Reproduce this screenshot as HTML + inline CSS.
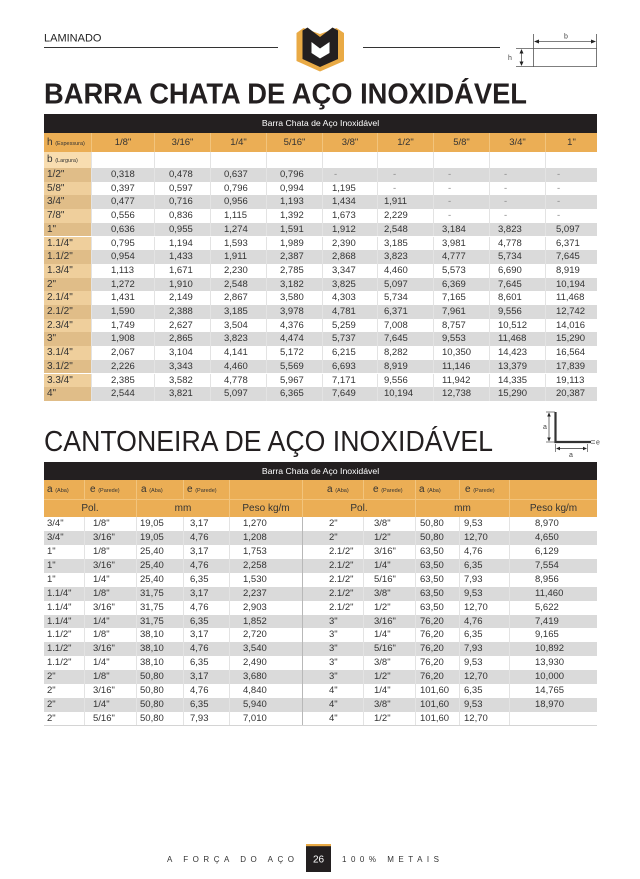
<!DOCTYPE html>
<html><head><meta charset="utf-8">
<style>
*{margin:0;padding:0;box-sizing:border-box}
html,body{width:640px;height:879px;background:#fff;overflow:hidden}
body{position:relative;font-family:"Liberation Sans",Arial,sans-serif;color:#333}
svg.ov{position:absolute;left:0;top:0}
.tb{position:absolute;left:44px;width:553px}
.bar{position:absolute;left:0;width:553px;background:#231f20;color:#fff;font-size:8.7px;text-align:center}
.r{position:absolute;left:0;width:553px;display:flex;font-size:9.5px;white-space:nowrap;color:#333}
.r>span{display:block;height:100%;border-right:1px solid #e3e3e3;overflow:visible;flex:none}
.r>span:last-child{border-right:none}
.g{background:#dadada}
.hd{background:#ebae55}
.hd>span{border-right:1px solid #f2c47c !important}
.hd>span:last-child{border-right:none !important}
b.k{font-weight:normal;font-size:10px}
small{font-size:5.5px}
/* table 1 */
.t1 .r>span:nth-child(1){width:48px;padding-left:3px}
.t1 .r>span:nth-child(2){width:63px;padding-left:19px}
.t1 .r>span:nth-child(3){width:56px;padding-left:14px}
.t1 .r>span:nth-child(4){width:56px;padding-left:13px}
.t1 .r>span:nth-child(5){width:56px;padding-left:13px}
.t1 .r>span:nth-child(6){width:55px;padding-left:9px}
.t1 .r>span:nth-child(7){width:56px;padding-left:6px}
.t1 .r>span:nth-child(8){width:56px;padding-left:8px}
.t1 .r>span:nth-child(9){width:56px;padding-left:8px}
.t1 .r>span:nth-child(10){width:51px;padding-left:10px}
.t1 .r>span.d{color:#888}
.t1 .r>span.d:nth-child(6){padding-left:11px}
.t1 .r>span.d:nth-child(7){padding-left:15px}
.t1 .r>span.d:nth-child(8){padding-left:14px}
.t1 .r>span.d:nth-child(9){padding-left:14px}
.t1 .r>span.d:nth-child(10){padding-left:11px}
.t1 .hd>span{text-align:center;padding-left:0 !important}
.t1 .hd>span:first-child{text-align:left;padding-left:3px !important}
.t1 .dr{height:13.7px;line-height:13.7px}
.t1 .dr>span:first-child{background:#efcf9c;font-size:10px}
.t1 .dr.g>span:first-child{background:#e0bd88}
.t1 .br>span:first-child{background:#f8ddb0}
/* table 2 */
.t2 .r>span:nth-child(1){width:41px;padding-left:3px}
.t2 .r>span:nth-child(2){width:52px;padding-left:8px}
.t2 .r>span:nth-child(3){width:47px;padding-left:3px}
.t2 .r>span:nth-child(4){width:46px;padding-left:6px}
.t2 .r>span:nth-child(5){width:73px;padding-left:13px}
.t2 .r>span:nth-child(6){width:61px;padding-left:26px}
.t2 .r>span:nth-child(7){width:52px;padding-left:10px}
.t2 .r>span:nth-child(8){width:44px;padding-left:4px}
.t2 .r>span:nth-child(9){width:50px;padding-left:4px}
.t2 .r>span:nth-child(10){width:87px;padding-left:25px}
.t2 .dr{height:13.93px;line-height:13.93px}
.t2 .dr>span:nth-child(5){border-right:1px solid #b8b8b8}
.t2 .h1>span:nth-child(2){padding-left:5px}
.t2 .h1>span:nth-child(3){padding-left:4px}
.t2 .h1>span:nth-child(4){padding-left:3px}
.t2 .h1>span:nth-child(6){padding-left:24px}
.t2 .h1>span:nth-child(7){padding-left:9px}
.t2 .h1>span:nth-child(8){padding-left:3px}
.t2 .h1>span:nth-child(9){padding-left:5px}
.t2 .h2{border-top:1px solid #f2c47c}
.t2 .h2>span{text-align:center;padding:0 !important;font-size:10px}
.t2 .last{border-bottom:1px solid #d4d4d4}
</style></head>
<body>

<svg class="ov" width="640" height="879" viewBox="0 0 640 879">
  <text x="44" y="41.5" font-family="Liberation Sans, Arial, sans-serif" font-size="11" fill="#222">LAMINADO</text>
  <line x1="44" y1="47.5" x2="278" y2="47.5" stroke="#333" stroke-width="1"/>
  <line x1="363" y1="47.5" x2="500" y2="47.5" stroke="#333" stroke-width="1"/>
  <!-- logo -->
  <polygon points="296.5,33 303.5,28 320,34 336.5,28 344,33 344,61 320,71.5 296.5,61" fill="#e9aa45"/>
  <polygon points="302.5,30.5 307.5,27.5 320,37 332.5,27.5 338,30.5 338,59 320,67 302.5,59" fill="#231f20"/>
  <polygon points="311.5,42 320,48.5 329.5,42 329.5,53 320,58.5 311.5,53" fill="#fff"/>
  <!-- b/h diagram -->
  <g stroke="#555" stroke-width="0.8" fill="none">
    <line x1="533.5" y1="34" x2="533.5" y2="67"/>
    <line x1="596.5" y1="34" x2="596.5" y2="67"/>
    <line x1="516" y1="48.5" x2="597" y2="48.5"/>
    <line x1="516" y1="66.5" x2="597" y2="66.5"/>
    <line x1="536" y1="41.5" x2="594" y2="41.5"/>
    <line x1="521.5" y1="51" x2="521.5" y2="64"/>
  </g>
  <g fill="#222">
    <polygon points="534,41.5 539,39.5 539,43.5"/>
    <polygon points="596,41.5 591,39.5 591,43.5"/>
    <polygon points="521.5,49 519.5,53.5 523.5,53.5"/>
    <polygon points="521.5,66 519.5,61.5 523.5,61.5"/>
  </g>
  <text x="566" y="38.5" font-family="Liberation Sans, Arial, sans-serif" font-size="7" fill="#444" text-anchor="middle">b</text>
  <text x="510" y="60" font-family="Liberation Sans, Arial, sans-serif" font-size="7" fill="#444" text-anchor="middle">h</text>

  <!-- titles -->
  <text x="44" y="103.5" font-family="Liberation Sans, Arial, sans-serif" font-size="29" font-weight="bold" fill="#231f20" textLength="483" lengthAdjust="spacingAndGlyphs">BARRA CHATA DE AÇO INOXIDÁVEL</text>
  <text x="44" y="451" font-family="Liberation Sans, Arial, sans-serif" font-size="29" fill="#231f20" textLength="449" lengthAdjust="spacingAndGlyphs">CANTONEIRA DE AÇO INOXIDÁVEL</text>

  <!-- L diagram -->
  <g stroke="#333" fill="none">
    <polyline points="555.5,412 555.5,442 591,442" stroke-width="2.2"/>
    <line x1="549" y1="413" x2="549" y2="441" stroke-width="0.7"/>
    <line x1="546" y1="412" x2="555" y2="412" stroke-width="0.6"/>
    <line x1="546" y1="442" x2="555" y2="442" stroke-width="0.6"/>
    <line x1="557" y1="448.5" x2="586" y2="448.5" stroke-width="0.7"/>
    <line x1="555.5" y1="444" x2="555.5" y2="452" stroke-width="0.6"/>
    <line x1="587.5" y1="444" x2="587.5" y2="452" stroke-width="0.6"/>
    <line x1="591" y1="440.8" x2="595" y2="440.8" stroke-width="0.6"/>
    <line x1="591" y1="443.2" x2="595" y2="443.2" stroke-width="0.6"/>
  </g>
  <g fill="#222">
    <polygon points="549,412.5 547.2,416.5 550.8,416.5"/>
    <polygon points="549,441.5 547.2,437.5 550.8,437.5"/>
    <polygon points="556,448.5 560,446.7 560,450.3"/>
    <polygon points="587,448.5 583,446.7 583,450.3"/>
  </g>
  <text x="545" y="429" font-family="Liberation Sans, Arial, sans-serif" font-size="7" fill="#444" text-anchor="middle">a</text>
  <text x="598" y="444.5" font-family="Liberation Sans, Arial, sans-serif" font-size="7" fill="#444" text-anchor="middle">e</text>
  <text x="571" y="457" font-family="Liberation Sans, Arial, sans-serif" font-size="7" fill="#444" text-anchor="middle">a</text>

  <!-- footer -->
  <text x="167" y="862" font-family="Liberation Sans, Arial, sans-serif" font-size="8" fill="#333" textLength="127" lengthAdjust="spacing">A FORÇA DO AÇO</text>
  <rect x="306" y="845" width="25" height="27" fill="#231f20"/>
  <rect x="306" y="844" width="25" height="2.2" fill="#e9aa45"/>
  <text x="318.5" y="862.5" font-family="Liberation Sans, Arial, sans-serif" font-size="10" fill="#fff" text-anchor="middle">26</text>
  <text x="342" y="862" font-family="Liberation Sans, Arial, sans-serif" font-size="8" fill="#333" textLength="97" lengthAdjust="spacing">100% METAIS</text>
</svg>

<!-- TABLE 1 -->
<div class="tb t1" style="top:114px;height:287px">
  <div class="bar" style="top:0;height:19px;line-height:19px">Barra Chata de Aço Inoxidável</div>
  <div class="r hd" style="top:19px;height:19px;line-height:19px"><span><b class="k">h</b> <small>(Espessura)</small></span><span>1/8"</span><span>3/16"</span><span>1/4"</span><span>5/16"</span><span>3/8"</span><span>1/2"</span><span>5/8"</span><span>3/4"</span><span>1"</span></div>
  <div class="r br" style="top:38px;height:16px;line-height:16px"><span><b class="k">b</b> <small>(Largura)</small></span><span></span><span></span><span></span><span></span><span></span><span></span><span></span><span></span><span></span></div>
  <div class="r dr g" style="top:54px"><span>1/2"</span><span>0,318</span><span>0,478</span><span>0,637</span><span>0,796</span><span class="d">-</span><span class="d">-</span><span class="d">-</span><span class="d">-</span><span class="d">-</span></div>
  <div class="r dr" style="top:67.7px"><span>5/8"</span><span>0,397</span><span>0,597</span><span>0,796</span><span>0,994</span><span>1,195</span><span class="d">-</span><span class="d">-</span><span class="d">-</span><span class="d">-</span></div>
  <div class="r dr g" style="top:81.4px"><span>3/4"</span><span>0,477</span><span>0,716</span><span>0,956</span><span>1,193</span><span>1,434</span><span>1,911</span><span class="d">-</span><span class="d">-</span><span class="d">-</span></div>
  <div class="r dr" style="top:95.1px"><span>7/8"</span><span>0,556</span><span>0,836</span><span>1,115</span><span>1,392</span><span>1,673</span><span>2,229</span><span class="d">-</span><span class="d">-</span><span class="d">-</span></div>
  <div class="r dr g" style="top:108.8px"><span>1"</span><span>0,636</span><span>0,955</span><span>1,274</span><span>1,591</span><span>1,912</span><span>2,548</span><span>3,184</span><span>3,823</span><span>5,097</span></div>
  <div class="r dr" style="top:122.5px"><span>1.1/4"</span><span>0,795</span><span>1,194</span><span>1,593</span><span>1,989</span><span>2,390</span><span>3,185</span><span>3,981</span><span>4,778</span><span>6,371</span></div>
  <div class="r dr g" style="top:136.2px"><span>1.1/2"</span><span>0,954</span><span>1,433</span><span>1,911</span><span>2,387</span><span>2,868</span><span>3,823</span><span>4,777</span><span>5,734</span><span>7,645</span></div>
  <div class="r dr" style="top:149.9px"><span>1.3/4"</span><span>1,113</span><span>1,671</span><span>2,230</span><span>2,785</span><span>3,347</span><span>4,460</span><span>5,573</span><span>6,690</span><span>8,919</span></div>
  <div class="r dr g" style="top:163.6px"><span>2"</span><span>1,272</span><span>1,910</span><span>2,548</span><span>3,182</span><span>3,825</span><span>5,097</span><span>6,369</span><span>7,645</span><span>10,194</span></div>
  <div class="r dr" style="top:177.3px"><span>2.1/4"</span><span>1,431</span><span>2,149</span><span>2,867</span><span>3,580</span><span>4,303</span><span>5,734</span><span>7,165</span><span>8,601</span><span>11,468</span></div>
  <div class="r dr g" style="top:191px"><span>2.1/2"</span><span>1,590</span><span>2,388</span><span>3,185</span><span>3,978</span><span>4,781</span><span>6,371</span><span>7,961</span><span>9,556</span><span>12,742</span></div>
  <div class="r dr" style="top:204.7px"><span>2.3/4"</span><span>1,749</span><span>2,627</span><span>3,504</span><span>4,376</span><span>5,259</span><span>7,008</span><span>8,757</span><span>10,512</span><span>14,016</span></div>
  <div class="r dr g" style="top:218.4px"><span>3"</span><span>1,908</span><span>2,865</span><span>3,823</span><span>4,474</span><span>5,737</span><span>7,645</span><span>9,553</span><span>11,468</span><span>15,290</span></div>
  <div class="r dr" style="top:232.1px"><span>3.1/4"</span><span>2,067</span><span>3,104</span><span>4,141</span><span>5,172</span><span>6,215</span><span>8,282</span><span>10,350</span><span>14,423</span><span>16,564</span></div>
  <div class="r dr g" style="top:245.8px"><span>3.1/2"</span><span>2,226</span><span>3,343</span><span>4,460</span><span>5,569</span><span>6,693</span><span>8,919</span><span>11,146</span><span>13,379</span><span>17,839</span></div>
  <div class="r dr" style="top:259.5px"><span>3.3/4"</span><span>2,385</span><span>3,582</span><span>4,778</span><span>5,967</span><span>7,171</span><span>9,556</span><span>11,942</span><span>14,335</span><span>19,113</span></div>
  <div class="r dr g" style="top:273.2px"><span>4"</span><span>2,544</span><span>3,821</span><span>5,097</span><span>6,365</span><span>7,649</span><span>10,194</span><span>12,738</span><span>15,290</span><span>20,387</span></div>
</div>

<!-- TABLE 2 -->
<div class="tb t2" style="top:462px;height:265px">
  <div class="bar" style="top:0;height:18px;line-height:18px">Barra Chata de Aço Inoxidável</div>
  <div class="r hd h1" style="top:18px;height:19px;line-height:19px"><span><b class="k">a</b> <small>(Aba)</small></span><span><b class="k">e</b> <small>(Parede)</small></span><span><b class="k">a</b> <small>(Aba)</small></span><span><b class="k">e</b> <small>(Parede)</small></span><span></span><span><b class="k">a</b> <small>(Aba)</small></span><span><b class="k">e</b> <small>(Parede)</small></span><span><b class="k">a</b> <small>(Aba)</small></span><span><b class="k">e</b> <small>(Parede)</small></span><span></span></div>
  <div class="r hd h2" style="top:37px;height:18px;line-height:17px"><span style="width:93px">Pol.</span><span style="width:93px">mm</span><span style="width:73px">Peso kg/m</span><span style="width:113px">Pol.</span><span style="width:94px">mm</span><span style="width:87px">Peso kg/m</span></div>
  <div class="r dr" style="top:55px"><span>3/4"</span><span>1/8"</span><span>19,05</span><span>3,17</span><span>1,270</span><span>2"</span><span>3/8"</span><span>50,80</span><span>9,53</span><span>8,970</span></div>
  <div class="r dr g" style="top:68.93px"><span>3/4"</span><span>3/16"</span><span>19,05</span><span>4,76</span><span>1,208</span><span>2"</span><span>1/2"</span><span>50,80</span><span>12,70</span><span>4,650</span></div>
  <div class="r dr" style="top:82.86px"><span>1"</span><span>1/8"</span><span>25,40</span><span>3,17</span><span>1,753</span><span>2.1/2"</span><span>3/16"</span><span>63,50</span><span>4,76</span><span>6,129</span></div>
  <div class="r dr g" style="top:96.79px"><span>1"</span><span>3/16"</span><span>25,40</span><span>4,76</span><span>2,258</span><span>2.1/2"</span><span>1/4"</span><span>63,50</span><span>6,35</span><span>7,554</span></div>
  <div class="r dr" style="top:110.72px"><span>1"</span><span>1/4"</span><span>25,40</span><span>6,35</span><span>1,530</span><span>2.1/2"</span><span>5/16"</span><span>63,50</span><span>7,93</span><span>8,956</span></div>
  <div class="r dr g" style="top:124.65px"><span>1.1/4"</span><span>1/8"</span><span>31,75</span><span>3,17</span><span>2,237</span><span>2.1/2"</span><span>3/8"</span><span>63,50</span><span>9,53</span><span>11,460</span></div>
  <div class="r dr" style="top:138.58px"><span>1.1/4"</span><span>3/16"</span><span>31,75</span><span>4,76</span><span>2,903</span><span>2.1/2"</span><span>1/2"</span><span>63,50</span><span>12,70</span><span>5,622</span></div>
  <div class="r dr g" style="top:152.51px"><span>1.1/4"</span><span>1/4"</span><span>31,75</span><span>6,35</span><span>1,852</span><span>3"</span><span>3/16"</span><span>76,20</span><span>4,76</span><span>7,419</span></div>
  <div class="r dr" style="top:166.44px"><span>1.1/2"</span><span>1/8"</span><span>38,10</span><span>3,17</span><span>2,720</span><span>3"</span><span>1/4"</span><span>76,20</span><span>6,35</span><span>9,165</span></div>
  <div class="r dr g" style="top:180.37px"><span>1.1/2"</span><span>3/16"</span><span>38,10</span><span>4,76</span><span>3,540</span><span>3"</span><span>5/16"</span><span>76,20</span><span>7,93</span><span>10,892</span></div>
  <div class="r dr" style="top:194.3px"><span>1.1/2"</span><span>1/4"</span><span>38,10</span><span>6,35</span><span>2,490</span><span>3"</span><span>3/8"</span><span>76,20</span><span>9,53</span><span>13,930</span></div>
  <div class="r dr g" style="top:208.23px"><span>2"</span><span>1/8"</span><span>50,80</span><span>3,17</span><span>3,680</span><span>3"</span><span>1/2"</span><span>76,20</span><span>12,70</span><span>10,000</span></div>
  <div class="r dr" style="top:222.16px"><span>2"</span><span>3/16"</span><span>50,80</span><span>4,76</span><span>4,840</span><span>4"</span><span>1/4"</span><span>101,60</span><span>6,35</span><span>14,765</span></div>
  <div class="r dr g" style="top:236.09px"><span>2"</span><span>1/4"</span><span>50,80</span><span>6,35</span><span>5,940</span><span>4"</span><span>3/8"</span><span>101,60</span><span>9,53</span><span>18,970</span></div>
  <div class="r dr last" style="top:250.02px"><span>2"</span><span>5/16"</span><span>50,80</span><span>7,93</span><span>7,010</span><span>4"</span><span>1/2"</span><span>101,60</span><span>12,70</span><span></span></div>
</div>

</body></html>
